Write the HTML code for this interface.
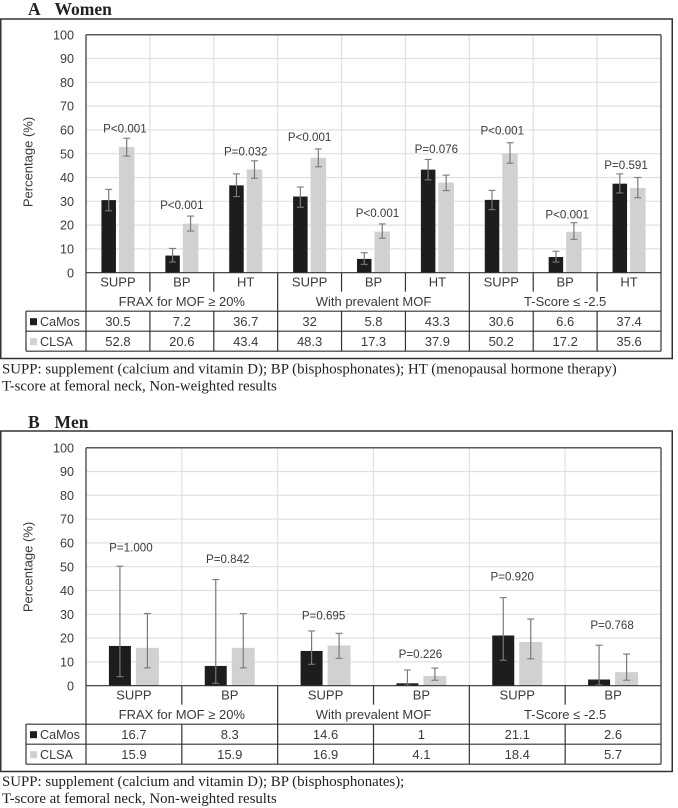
<!DOCTYPE html>
<html lang="en">
<head>
<meta charset="utf-8">
<title>Percentage treated: Women and Men</title>
<style>
html,body{margin:0;padding:0;background:#fff;width:678px;height:808px;overflow:hidden}
svg{display:block;filter:blur(0.3px)}
text{font-family:"Liberation Sans",sans-serif;fill:#3a3a3a}
.serif{font-family:"Liberation Serif",serif;fill:#222}
</style>
</head>
<body>
<svg id="chart" xmlns="http://www.w3.org/2000/svg" width="678" height="808" viewBox="0 0 678 808">
  <text class="serif" x="28" y="15" font-size="17.5" font-weight="700">A</text>
  <text class="serif" x="54.5" y="15" font-size="17.5" font-weight="700">Women</text>
  <rect x="0.75" y="19" width="671.5" height="339.5" fill="none" stroke="#333" stroke-width="1.5"/>
  <text class="serif" x="2" y="373.5" font-size="14.85">SUPP: supplement (calcium and vitamin D); BP (bisphosphonates); HT (menopausal hormone therapy)</text>
  <text class="serif" x="2" y="390.5" font-size="14.85">T-score at femoral neck, Non-weighted results</text>

  <text class="serif" x="28" y="428" font-size="17.5" font-weight="700">B</text>
  <text class="serif" x="54.5" y="428" font-size="17.5" font-weight="700">Men</text>
  <rect x="0.75" y="431" width="671.5" height="340.5" fill="none" stroke="#333" stroke-width="1.5"/>
  <text class="serif" x="2" y="786" font-size="14.85">SUPP: supplement (calcium and vitamin D); BP (bisphosphonates);</text>
  <text class="serif" x="2" y="803" font-size="14.85">T-score at femoral neck, Non-weighted results</text>
</svg>
<script>
// Shared axis data
const yTicks = [0, 10, 20, 30, 40, 50, 60, 70, 80, 90, 100];
const seriesNames = ['CaMos', 'CLSA'];
const groupNames = ['FRAX for MOF \u2265 20%', 'With prevalent MOF', 'T-Score \u2264 -2.5'];

// Panel A: Women
const womenCategories = ['SUPP', 'BP', 'HT', 'SUPP', 'BP', 'HT', 'SUPP', 'BP', 'HT'];
const womenCaMos = [30.5, 7.2, 36.7, 32, 5.8, 43.3, 30.6, 6.6, 37.4];
const womenCLSA = [52.8, 20.6, 43.4, 48.3, 17.3, 37.9, 50.2, 17.2, 35.6];
const womenCaMosLow = [26, 4.5, 32, 27.5, 3.5, 39, 26.5, 4.5, 33.5];
const womenCaMosHigh = [35, 10.2, 41.5, 36, 8.4, 47.6, 34.6, 9, 41.5];
const womenCLSALow = [49, 17.5, 39.7, 44.5, 14.5, 34.5, 46, 14, 31.5];
const womenCLSAHigh = [56.5, 23.8, 47, 52, 20.5, 41, 54.6, 21, 40];
const womenPValues = ['P<0.001', 'P<0.001', 'P=0.032', 'P<0.001', 'P<0.001', 'P=0.076', 'P<0.001', 'P<0.001', 'P=0.591'];
const womenPHeights = [60.5, 28.5, 51, 57, 25, 52, 59.7, 24.5, 45.3];

// Panel B: Men
const menCategories = ['SUPP', 'BP', 'SUPP', 'BP', 'SUPP', 'BP'];
const menCaMos = [16.7, 8.3, 14.6, 1, 21.1, 2.6];
const menCLSA = [15.9, 15.9, 16.9, 4.1, 18.4, 5.7];
const menCaMosLow = [3.8, 1, 9, 0.2, 10.7, 0.3];
const menCaMosHigh = [50.2, 44.6, 23, 6.6, 37, 17];
const menCLSALow = [7.5, 7.5, 11.5, 2.3, 11.3, 2.3];
const menCLSAHigh = [30.3, 30.3, 22, 7.4, 28, 13.3];
const menPValues = ['P=1.000', 'P=0.842', 'P=0.695', 'P=0.226', 'P=0.920', 'P=0.768'];
const menPHeights = [58, 53.2, 29.4, 13.4, 45.8, 25.6];

const svg = document.getElementById('chart');
const NS = 'http://www.w3.org/2000/svg';

function add(tag, name, attrs, content) {
  const el = document.createElementNS(NS, tag);
  
  
  for (const key in attrs) el.setAttribute(key, attrs[key]);
  if (content !== undefined) el.textContent = content;
  svg.appendChild(el);
  return el;
}

function line(name, x1, y1, x2, y2, stroke, width) {
  return add('line', name, { x1: x1, y1: y1, x2: x2, y2: y2, stroke: stroke, 'stroke-width': width });
}

function label(name, x, y, size, content, anchor) {
  return add('text', name, { x: x, y: y, 'font-size': size, 'text-anchor': anchor || 'middle' }, content);
}

function drawPanel(p) {
  const n = p.categories.length;
  const perGroup = n / groupNames.length;
  const left = 86, right = 661;
  const xEdge = i => left + (right - left) * i / n;
  const xCenter = i => xEdge(i + 0.5);
  const yScale = v => p.zero - (p.zero - p.top) * v / 100;

  // Gridlines
  yTicks.forEach(t => {
    if (t > 0 && t < 100) line(p.id + '-gridline-y-' + t, left, yScale(t), right, yScale(t), '#e0e0e0', 1.2);
  });
  for (let i = 1; i < n; i++) line(p.id + '-gridline-x-' + i, xEdge(i), p.top, xEdge(i), p.zero, '#e0e0e0', 1.2);

  // Bars and error bars
  const series = [
    { name: 'camos', values: p.camos, low: p.camosLow, high: p.camosHigh, fill: '#1f1c1d', from: p.darkFrom, to: p.darkTo },
    { name: 'clsa', values: p.clsa, low: p.clsaLow, high: p.clsaHigh, fill: '#d0d1d3', from: p.lightFrom, to: p.lightTo }
  ];
  series.forEach(s => {
    s.values.forEach((v, i) => {
      const x0 = xCenter(i) + s.from, x1 = xCenter(i) + s.to;
      add('rect', p.id + '-bar-' + s.name + '-' + i, { x: x0, y: yScale(v), width: x1 - x0, height: p.zero - yScale(v), fill: s.fill });
    });
  });
  series.forEach(s => {
    s.values.forEach((v, i) => {
      const cx = xCenter(i) + (s.from + s.to) / 2;
      const yLo = yScale(s.low[i]), yHi = yScale(s.high[i]);
      line(p.id + '-error-' + s.name + '-' + i, cx, yLo, cx, yHi, '#7a7a7a', 1.2);
      line(p.id + '-error-cap-low-' + s.name + '-' + i, cx - 3.5, yLo, cx + 3.5, yLo, '#7a7a7a', 1.1);
      line(p.id + '-error-cap-high-' + s.name + '-' + i, cx - 3.5, yHi, cx + 3.5, yHi, '#7a7a7a', 1.1);
    });
  });

  // P value labels
  p.pValues.forEach((txt, i) => {
    label(p.id + '-p-value-' + i, xCenter(i) + p.labelShift[i], yScale(p.pHeights[i]) + 4, 11.6, txt);
  });

  // Y axis ticks and title
  yTicks.forEach(t => {
    label(p.id + '-y-tick-' + t, 74, yScale(t) + 4.6, 12.6, String(t), 'end');
  });
  const titleY = p.titleY;
  add('text', p.id + '-y-axis-title', { x: 32.5, y: titleY, 'font-size': 13, 'text-anchor': 'middle', transform: 'rotate(-90 32.5 ' + titleY + ')' }, 'Percentage (%)');

  // Data table rows
  const rowA = p.zero + 38.5, rowB = rowA + 20, rowC = rowB + 20;
  series.forEach((s, r) => {
    const rowTop = r === 0 ? rowA : rowB;
    add('rect', p.id + '-legend-swatch-' + s.name, { x: 30, y: rowTop + 7, width: 7, height: 7, fill: s.fill });
    label(p.id + '-legend-label-' + s.name, 40, rowTop + 14.6, 12.6, seriesNames[r], 'start');
    s.values.forEach((v, i) => {
      label(p.id + '-table-value-' + s.name + '-' + i, xCenter(i), rowTop + 15, 13, String(v));
    });
  });

  // Category and group labels
  p.categories.forEach((c, i) => {
    label(p.id + '-category-label-' + i, xCenter(i), p.zero + 14, 13, c);
  });
  groupNames.forEach((g, i) => {
    label(p.id + '-group-label-' + i, xEdge(i * perGroup + perGroup / 2), p.zero + 33.5, 13, g);
  });

  // Axis frame and table lines
  const ink = '#333';
  line(p.id + '-plot-top-border', left, p.top, right, p.top, '#595959', 1.5);
  line(p.id + '-plot-right-border', right, p.top, right, p.zero, '#595959', 1.5);
  line(p.id + '-y-axis-line', left, p.top, left, p.zero, '#595959', 1.5);
  line(p.id + '-x-axis-line', left, p.zero, right, p.zero, ink, 1.2);
  line(p.id + '-table-line-top', 26, rowA, right, rowA, ink, 1.2);
  line(p.id + '-table-line-middle', 26, rowB, right, rowB, ink, 1.2);
  line(p.id + '-table-line-bottom', 26, rowC, right, rowC, ink, 1.2);
  line(p.id + '-table-line-left', 26, rowA, 26, rowC, ink, 1.2);
  line(p.id + '-table-line-axis', left, p.zero, left, rowC, ink, 1.2);
  line(p.id + '-table-line-right', right, p.zero, right, rowC, ink, 1.2);
  for (let i = 1; i < n; i++) {
    if (i % perGroup === 0) {
      line(p.id + '-group-divider-' + i, xEdge(i), p.zero, xEdge(i), rowC, ink, 1.2);
    } else {
      line(p.id + '-category-divider-' + i, xEdge(i), p.zero, xEdge(i), p.zero + 19, ink, 1.2);
      line(p.id + '-table-divider-' + i, xEdge(i), rowA, xEdge(i), rowC, ink, 1.2);
    }
  }
}

drawPanel({
  id: 'women', top: 34.7, zero: 272.7, titleY: 162,
  categories: womenCategories, camos: womenCaMos, clsa: womenCLSA,
  camosLow: womenCaMosLow, camosHigh: womenCaMosHigh, clsaLow: womenCLSALow, clsaHigh: womenCLSAHigh,
  pValues: womenPValues, pHeights: womenPHeights,
  darkFrom: -16.5, darkTo: -2, lightFrom: 1, lightTo: 16.5,
  labelShift: [7, 0, 0, 0, 4, -1, 1, 2, -3]
});

drawPanel({
  id: 'men', top: 447.7, zero: 685.7, titleY: 567,
  categories: menCategories, camos: menCaMos, clsa: menCLSA,
  camosLow: menCaMosLow, camosHigh: menCaMosHigh, clsaLow: menCLSALow, clsaHigh: menCLSAHigh,
  pValues: menPValues, pHeights: menPHeights,
  darkFrom: -25, darkTo: -3, lightFrom: 2, lightTo: 25,
  labelShift: [-3, -2, -2, -1, -5, -1]
});
</script>
</body>
</html>
